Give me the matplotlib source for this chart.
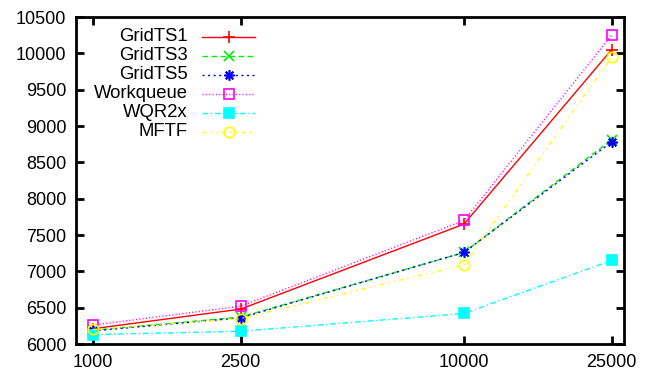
import matplotlib
matplotlib.use("Agg")
import matplotlib.pyplot as plt
from matplotlib.lines import Line2D

plt.rcParams['font.family'] = ['Liberation Sans', 'DejaVu Sans']

x_values = [1000, 2500, 10000, 25000]
x_labels = ['1000', '2500', '10000', '25000']

series_names = ['GridTS1', 'GridTS3', 'GridTS5', 'Workqueue', 'WQR2x', 'MFTF']
gridts1 = [6210, 6480, 7650, 10050]
gridts3 = [6190, 6370, 7260, 8810]
gridts5 = [6180, 6360, 7260, 8780]
workqueue = [6260, 6520, 7700, 10250]
wqr2x = [6130, 6175, 6420, 7150]
mftf = [6200, 6350, 7090, 9950]
series_values = [gridts1, gridts3, gridts5, workqueue, wqr2x, mftf]

colors = ['#ff0000', '#00ee00', '#0000ff', '#ff00ff', '#00ffff', '#ffff00']
dashes = [None, (4, 2.5), (1.5, 2.5), (0.8, 1.6), (4, 2, 1, 2), (3, 3, 1, 3, 1, 3)]
markers = ['+', 'x', (8, 2, 0), 's', 's', 'o']
mfaces = [None, None, None, 'none', '#00ffff', 'none']
msizes = [9, 7.5, 7.5, 6.5, 6.5, 7.5]

fig = plt.figure(figsize=(6.52, 3.77), dpi=100)
ax = fig.add_axes([76/652, 1 - 344/377, (624-76)/652, (344-17)/377])

for name, vals, c, d, m, mf, ms in zip(series_names, series_values, colors, dashes, markers, mfaces, msizes):
    kw = dict(color=c, lw=1.0, marker=m, markersize=ms, markeredgewidth=1.2)
    if mf is not None:
        kw['markerfacecolor'] = mf
    line, = ax.plot(x_values, vals, **kw)
    if d is not None:
        line.set_dashes(d)

ax.set_xscale('log')
ax.set_xlim(900, 27000)
ax.set_ylim(6000, 10500)
ax.set_xticks(x_values)
ax.set_xticklabels(x_labels)
ax.xaxis.set_minor_locator(matplotlib.ticker.NullLocator())
ax.set_yticks(range(6000, 10501, 500))

for s in ax.spines.values():
    s.set_linewidth(2)
ax.tick_params(axis='both', which='major', direction='in', length=6, width=2,
               top=True, right=True, labelsize=13, pad=7)

# legend, gnuplot style: right-aligned text, then sample line with marker
y0 = 0.939
dy = 19/327
tx = (188-76)/548
lx0 = (202-76)/548
lx1 = (255-76)/548
for i, (name, c, d, m, mf, ms) in enumerate(zip(series_names, colors, dashes, markers, mfaces, msizes)):
    y = y0 - i*dy
    ax.text(tx, y, name, transform=ax.transAxes, ha='right', va='center', fontsize=13.3)
    ln = Line2D([lx0, lx1], [y, y], transform=ax.transAxes, color=c, lw=1.0)
    if d is not None:
        ln.set_dashes(d)
    ax.add_line(ln)
    mk = Line2D([(lx0+lx1)/2], [y], transform=ax.transAxes, color=c, marker=m,
                markersize=ms, markeredgewidth=1.2, linestyle='none')
    if mf is not None:
        mk.set_markerfacecolor(mf)
    ax.add_line(mk)

fig.savefig('out.png', dpi=100)
